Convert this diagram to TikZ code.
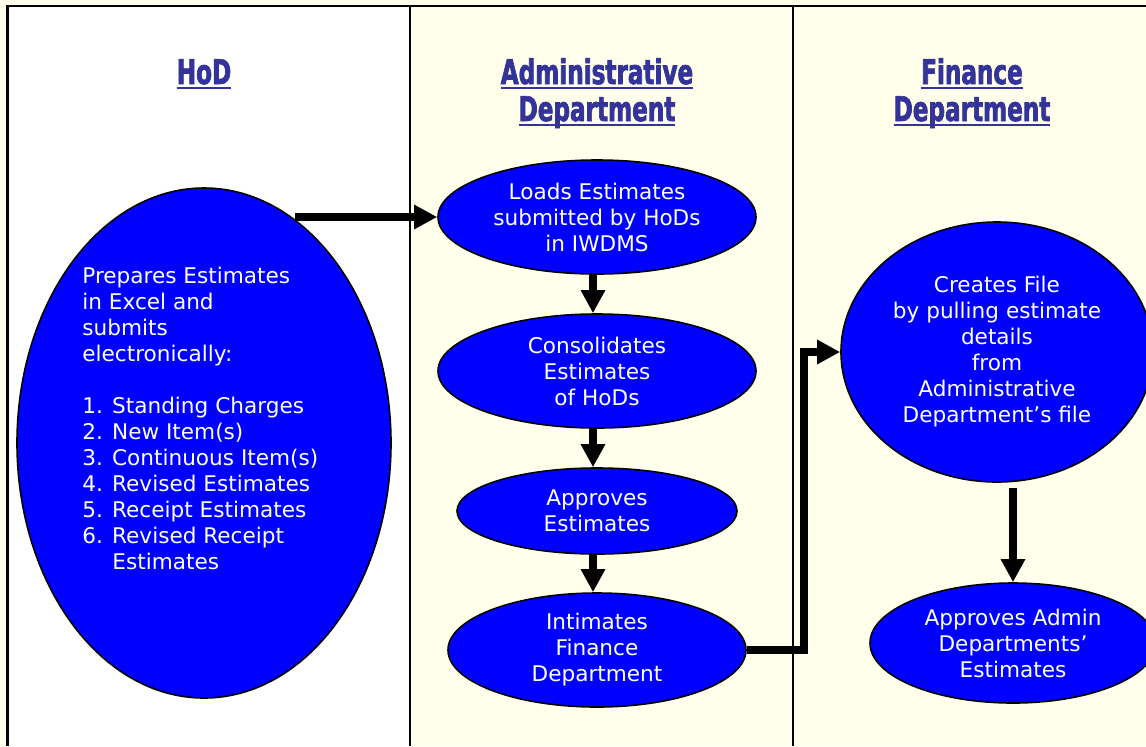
\documentclass[tikz,border=0pt]{standalone}
\usepackage{fontspec}
\usetikzlibrary{arrows.meta,shapes.geometric}
\setmainfont{DejaVu Sans}
\newfontfamily\headfont{DejaVu Sans}[FakeStretch=0.68,FakeBold=2]
\definecolor{ovalblue}{RGB}{0,0,255}
\definecolor{headblue}{RGB}{51,51,153}
\definecolor{paleyellow}{RGB}{255,255,235}
\newcommand{\hdline}[1]{\setbox0=\hbox{#1}\rlap{\rule[-2.6pt]{\wd0}{1.3pt}}\box0}
\tikzset{
  oval/.style={shape=ellipse, draw=black, line width=0.8pt, fill=ovalblue, text=white,
    inner sep=0pt, align=center, font=\fontsize{10.8}{13}\selectfont},
  hdtext/.style={text=headblue, align=center, anchor=base,
    font=\headfont\bfseries\fontsize{17}{18.5}\selectfont},
  flow/.style={line width=4pt, -{Triangle[length=11.5pt,width=11.5pt]}},
}

\begin{document}
\begin{tikzpicture}[x=0.5pt,y=-0.5pt]
\useasboundingbox (0,0) rectangle (1146,746);
\clip (0,0) rectangle (1146,746);

% columns
\fill [paleyellow] (0,0) rectangle (1146,746);
\fill [white] (7.5,6) rectangle (410,746);
\draw [line width=1.2pt] (7.5,746) -- (7.5,6) -- (1146,6);
\draw [line width=1pt] (410,6) -- (410,746);
\draw [line width=1pt] (793,6) -- (793,746);

% headings (base = last line)
\node (h1) at (204,84) [hdtext] {\hdline{HoD}};
\node (h2) at (597,121) [hdtext] {\hdline{Administrative}\\\hdline{Department}};
\node (h3) at (972,121) [hdtext] {\hdline{Finance}\\\hdline{Department}};

% ovals
\node (1) at (204,443) [oval, minimum width=187pt, minimum height=255pt] {};
\node (1t) at (82,418) [anchor=west, inner sep=0pt, text=white, align=left, font=\fontsize{10.8}{13}\selectfont]
  {Prepares Estimates\\in Excel and\\submits\\electronically:\\[13pt]1. Standing Charges\\2. New Item(s)\\3. Continuous Item(s)\\4. Revised Estimates\\5. Receipt Estimates\\6. Revised Receipt\\\hspace*{15pt}Estimates};
\node (2) at (597,217) [oval, minimum width=159pt, minimum height=57pt] {Loads Estimates\\submitted by HoDs\\in IWDMS};
\node (3) at (597,371) [oval, minimum width=159pt, minimum height=57pt] {Consolidates\\Estimates\\of HoDs};
\node (4) at (597,511) [oval, minimum width=140pt, minimum height=43pt] {Approves\\Estimates};
\node (5) at (597,650) [oval, minimum width=149pt, minimum height=57pt] {Intimates\\Finance\\Department};
\node (6) at (997,352) [oval, minimum width=156pt, minimum height=130pt] {Creates File\\by pulling estimate\\details\\from\\Administrative\\Department’s file};
\node (7) at (1013,643) [oval, minimum width=143pt, minimum height=60pt] {Approves Admin\\Departments’\\Estimates};

% arrows
\path [flow] (2.west -| 1.68) edge (2.west);
\path [flow] ([xshift=-2pt]2.south) edge ([xshift=-2pt]3.north);
\path [flow] ([xshift=-2pt]3.south) edge ([xshift=-2pt]4.north);
\path [flow] ([xshift=-2pt]4.south) edge ([xshift=-2pt]5.north);
\draw [flow] (5.east) -- ++(57,0) |- (6.west);
\path [flow] (6.south -| 7.north) edge [shorten <=2.5pt] (7.north);

\end{tikzpicture}
\end{document}
